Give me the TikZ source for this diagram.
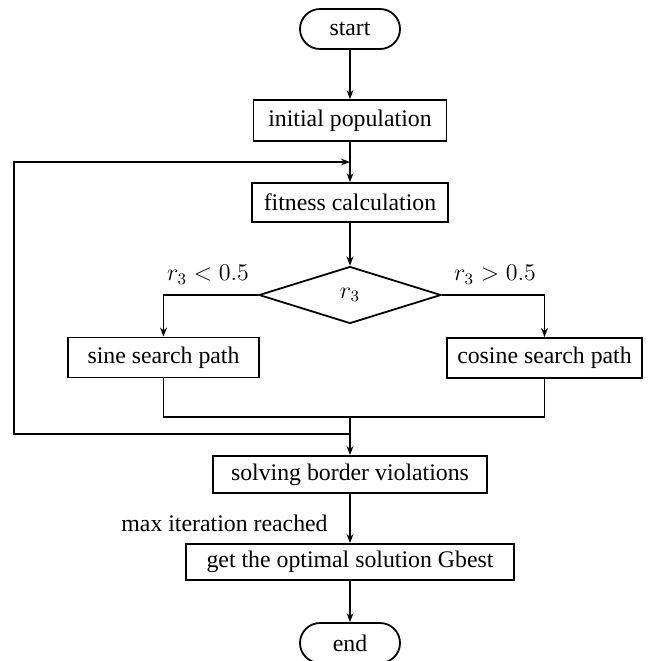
\documentclass[tikz,border=0pt]{standalone}
\usepackage{fontspec}
\setmainfont{Liberation Serif}
\usetikzlibrary{arrows.meta,shapes.geometric,positioning}

\begin{document}
\begin{tikzpicture}[
    x=0.5pt, y=-0.5pt,
    box/.style={draw, line width=0.9pt, inner sep=0pt, minimum height=19pt, align=center, font=\fontsize{11.9}{14}\selectfont},
    term/.style={box, rounded corners=10pt, minimum width=50pt, minimum height=20pt},
    lbl/.style={inner sep=0pt, font=\fontsize{11.9}{14}\selectfont},
    flow/.style={line width=0.9pt, -{Stealth[length=4.5pt,width=3.4pt]}}
]
    \useasboundingbox (0,0) rectangle (649,661);
    % Terminals
    \node[term] (start) at (350,29) {start};
    \node[term] (end) at (350,643) {end};
    % Steps
    \node[box, minimum width=96.5pt, minimum height=20.5pt] (init) at (350,120.5) {initial population};
    \node[box, minimum width=98pt, minimum height=19.5pt] (fit) at (350,202.5) {fitness calculation};
    \node[box, diamond, aspect=3.2, minimum width=91pt, minimum height=28.5pt] (dec) at (350,295) {$r_3$};
    \node[box, minimum width=95.5pt, minimum height=20pt] (sine) at (163.5,357.5) {sine search path};
    \node[box, minimum width=97.5pt, minimum height=20pt] (cosine) at (544.5,358) {cosine search path};
    \node[box, minimum width=137pt, minimum height=18.5pt] (solve) at (350,474.5) {solving border violations};
    \node[box, minimum width=164pt, minimum height=18pt] (gbest) at (350,562) {get the optimal solution Gbest};
    % Labels
    \node[lbl] (lt) at (208,275) {$r_3 < 0.5$};
    \node[lbl] (gt) at (495,275) {$r_3 > 0.5$};
    \node[lbl, anchor=east] (maxit) at (328,523) {max iteration reached};
    % Junctions
    \coordinate (merge) at (350,417);
    \coordinate (back) at (350,434);
    \coordinate (corner) at (14,434);
    \coordinate (entry) at (350,162);
    % Arrows
    \foreach \a/\b in {start/init, init/fit, fit/dec, solve/gbest, gbest/end} {
        \draw[flow] (\a) -- (\b);
    }
    \draw[flow] (dec.west) -| (sine.north);
    \draw[flow] (dec.east) -| (cosine.north);
    \draw[line width=0.9pt] (sine.south) |- (merge) -| (cosine.south);
    \draw[flow] (merge) -- (solve);
    \draw[flow] (back) -- (corner) |- (entry);
\end{tikzpicture}
\end{document}
